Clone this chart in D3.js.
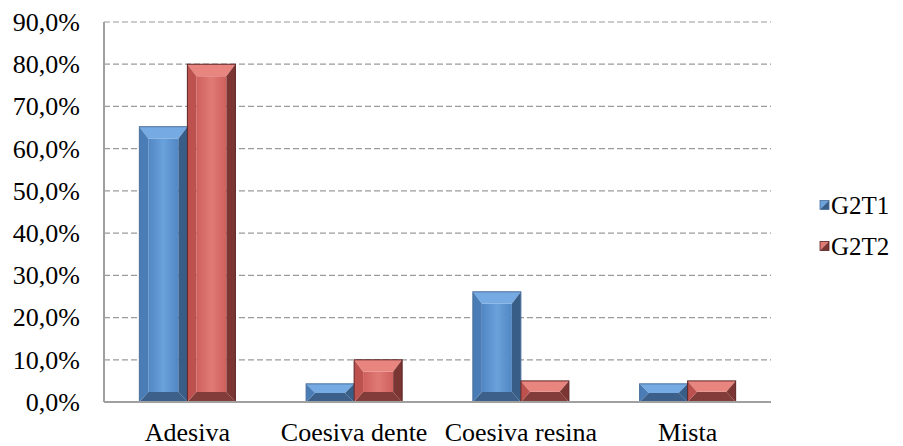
<!DOCTYPE html>
<html>
<head>
<meta charset="utf-8">
<script src="https://cdn.jsdelivr.net/npm/d3@7/dist/d3.min.js"></script>
<style>
  html, body { margin: 0; padding: 0; background: #fff; }
  svg { display: block; }
  svg text { font-family: "Liberation Serif", Tinos, "Times New Roman", "Nimbus Roman", "Nimbus Roman No9 L", FreeSerif, "Noto Serif", "DejaVu Serif", Georgia, serif; }
</style>
</head>
<body>
<svg id="chart" width="903" height="446"></svg>
<script>
// Failure type distribution per group (share of specimens)
const categories = ["Adesiva", "Coesiva dente", "Coesiva resina", "Mista"];
const seriesNames = ["G2T1", "G2T2"];
const g2t1 = [0.652, 0.043, 0.261, 0.043];
const g2t2 = [0.80, 0.10, 0.05, 0.05];
const yTicks = [0, 0.1, 0.2, 0.3, 0.4, 0.5, 0.6, 0.7, 0.8, 0.9];

const palettes = {
  G2T1: { face0: "#5187c4", face1: "#6aa2dc", top: "#76aae3", left: "#4a7cb5", right: "#385d87", bottom: "#3c6089", stroke: "#4a6f99" },
  G2T2: { face0: "#cf605c", face1: "#e07a75", top: "#e8857f", left: "#bd514e", right: "#7b3533", bottom: "#823c3a", stroke: "#5a2323" }
};

const svg = d3.select("#chart");
const margin = { left: 104, right: 132, top: 22, bottom: 44 };
const W = 903, H = 446;
const plotW = W - margin.left - margin.right;
const plotH = H - margin.top - margin.bottom;

const x0 = d3.scaleBand().domain(categories).range([0, plotW]).paddingInner(0.424).paddingOuter(0.212);
const x1 = d3.scaleBand().domain(seriesNames).range([0, x0.bandwidth()]);
const y = d3.scaleLinear().domain([0, 0.9]).range([plotH, 0]);

const g = svg.append("g").attr("transform", `translate(${margin.left},${margin.top})`);

// Gradients for bar faces
const defs = svg.append("defs");
seriesNames.forEach(s => {
  const p = palettes[s];
  const grad = defs.append("linearGradient").attr("id", "face-" + s).attr("x1", 0).attr("x2", 1).attr("y1", 0).attr("y2", 0);
  grad.append("stop").attr("offset", 0).attr("stop-color", p.face0);
  grad.append("stop").attr("offset", 0.5).attr("stop-color", p.face1);
  grad.append("stop").attr("offset", 1).attr("stop-color", p.face0);
});

// Gridlines
g.append("g").selectAll("line").data(yTicks.filter(t => t > 0)).join("line")
  .attr("x1", 0).attr("x2", plotW)
  .attr("y1", d => y(d)).attr("y2", d => y(d))
  .attr("stroke", "#9a9a9a").attr("stroke-width", 1.2).attr("stroke-dasharray", "6,3");

// Y tick labels
const fmt = d => (d * 100).toFixed(1).replace(".", ",") + "%";
g.append("g").selectAll("text").data(yTicks).join("text")
  .attr("x", -24).attr("y", d => y(d)).attr("dy", "0.34em")
  .attr("text-anchor", "end").attr("font-size", 26)
  .text(fmt);

// Bevelled bar drawing
function bevelBar(sel, bx, by, bw, bh, p, id) {
  const b = Math.min(9, bw / 2, bh / 2);
  const bt = Math.min(12, bh / 2);
  const bb = Math.min(10, bh / 2);
  const X0 = bx, X1 = bx + bw, Y0 = by, Y1 = by + bh;
  const pts = a => a.map(q => q.join(",")).join(" ");
  sel.append("rect").attr("x", X0 + b).attr("y", Y0 + bt).attr("width", Math.max(0, bw - 2 * b)).attr("height", Math.max(0, bh - bt - bb)).attr("fill", `url(#face-${id})`);
  sel.append("polygon").attr("points", pts([[X0, Y0], [X1, Y0], [X1 - b, Y0 + bt], [X0 + b, Y0 + bt]])).attr("fill", p.top);
  sel.append("polygon").attr("points", pts([[X0, Y1], [X1, Y1], [X1 - b, Y1 - bb], [X0 + b, Y1 - bb]])).attr("fill", p.bottom);
  sel.append("polygon").attr("points", pts([[X0, Y0], [X0 + b, Y0 + bt], [X0 + b, Y1 - bb], [X0, Y1]])).attr("fill", p.left);
  sel.append("polygon").attr("points", pts([[X1, Y0], [X1 - b, Y0 + bt], [X1 - b, Y1 - bb], [X1, Y1]])).attr("fill", p.right);
  sel.append("rect").attr("x", X0).attr("y", Y0).attr("width", bw).attr("height", bh)
    .attr("fill", "none").attr("stroke", p.stroke).attr("stroke-width", 1);
}

const seriesData = { G2T1: g2t1, G2T2: g2t2 };
const bars = g.append("g");
categories.forEach((c, i) => {
  seriesNames.forEach(s => {
    const v = seriesData[s][i];
    const bx = x0(c) + x1(s);
    bevelBar(bars.append("g"), bx, y(v), x1.bandwidth(), y(0) - y(v), palettes[s], s);
  });
});

// Axes lines
g.append("line").attr("x1", 0).attr("x2", 0).attr("y1", 0).attr("y2", plotH).attr("stroke", "#a0a0a0").attr("stroke-width", 2);
g.append("line").attr("x1", 0).attr("x2", plotW).attr("y1", plotH).attr("y2", plotH).attr("stroke", "#a0a0a0").attr("stroke-width", 2);

// Category labels
g.append("g").selectAll("text").data(categories).join("text")
  .attr("x", d => x0(d) + x0.bandwidth() / 2).attr("y", plotH + 39)
  .attr("text-anchor", "middle").attr("font-size", 26)
  .text(d => d);

// Legend
const legend = svg.append("g").attr("transform", "translate(820,0)");
seriesNames.forEach((s, i) => {
  const row = legend.append("g").attr("transform", `translate(0,${205 + i * 41})`);
  const p = palettes[s];
  const sq = 9;
  row.append("polygon").attr("points", `0,${-sq/2} ${sq},${-sq/2} 0,${sq/2}`).attr("fill", p.face1);
  row.append("polygon").attr("points", `${sq},${-sq/2} ${sq},${sq/2} 0,${sq/2}`).attr("fill", p.right);
  row.append("rect").attr("x", 0).attr("y", -sq / 2).attr("width", sq).attr("height", sq)
    .attr("fill", "none").attr("stroke", p.stroke).attr("stroke-width", 0.8);
  row.append("text").attr("x", 11).attr("y", 0).attr("dy", "0.34em").attr("font-size", 25).text(s);
});
</script>
</body>
</html>
